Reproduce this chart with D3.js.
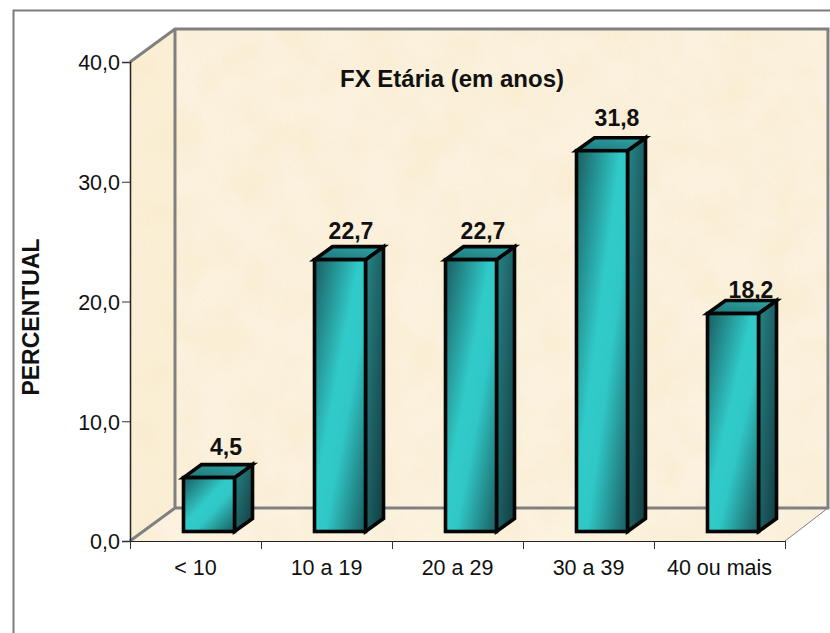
<!DOCTYPE html>
<html>
<head>
<meta charset="utf-8">
<script src="https://cdn.jsdelivr.net/npm/d3@7"></script>
<style>
   html, body { margin:0; padding:0; background:#fff; }
   text { font-family:"Liberation Sans",Arial,sans-serif; fill:#111; }
</style>
</head>
<body>
<div id="chart"></div>
<script>
// chart values
var categories = ["< 10","10 a 19","20 a 29","30 a 39","40 ou mais"];
var percents = [4.5,22.7,22.7,31.8,18.2];
var valueLabels = ["4,5","22,7","22,7","31,8","18,2"];
var yTicks = [0,10,20,30,40];

var chartTitle = "FX Etária (em anos)";
var yTitle = "PERCENTUAL";

// layout
var width = 830, height = 633;
var plot = {left:130, right:785, top:62, bottom:541};
var depth = {x:45, y:33};
var barDepth = {x:18, y:13};
var barInset = {x:53.5, y:9.5, width:51};
// the value labels do not sit at a regular distance from their bars
var labelNudge = [[8,-10],[2,-8],[3,-8],[6,-12],[9,-3]];

var yScale = d3.scaleLinear().domain([0,40]).range([plot.bottom,plot.top]);
var xScale = d3.scaleBand().domain(categories).range([plot.left,plot.right]);

var svg = d3.select("#chart").append("svg")
   .attr("width",width)
   .attr("height",height)
   .style("display","block");

var defs = svg.append("defs");

// parchment texture
var paper = defs.append("filter").attr("id","paper")
   .attr("x",0).attr("y",0).attr("width",1).attr("height",1);
paper.append("feTurbulence").attr("type","fractalNoise").attr("baseFrequency",0.025)
   .attr("numOctaves",3).attr("seed",4).attr("result","clouds");
paper.append("feColorMatrix").attr("in","clouds").attr("type","matrix")
   .attr("values","0 0 0 0 0.95  0 0 0 0 0.83  0 0 0 0 0.60  1.2 0 0 0 -0.42")
   .attr("result","stain");
paper.append("feTurbulence").attr("type","fractalNoise").attr("baseFrequency",0.7)
   .attr("numOctaves",2).attr("seed",9).attr("result","fine");
paper.append("feColorMatrix").attr("in","fine").attr("type","matrix")
   .attr("values","0 0 0 0 0.88  0 0 0 0 0.76  0 0 0 0 0.55  0.6 0 0 0 -0.2")
   .attr("result","grain");
var paperMerge = paper.append("feMerge").attr("result","merged");
paperMerge.append("feMergeNode").attr("in","SourceGraphic");
paperMerge.append("feMergeNode").attr("in","stain");
paperMerge.append("feMergeNode").attr("in","grain");
paper.append("feComposite").attr("in","merged").attr("in2","SourceGraphic").attr("operator","in");

function gradient(id,x1,y1,x2,y2,stops) {
   var g = defs.append("linearGradient").attr("id",id)
      .attr("x1",x1).attr("y1",y1).attr("x2",x2).attr("y2",y2);
   stops.forEach(function(s){
      g.append("stop").attr("offset",s[0]).attr("stop-color",s[1]);
   });
}
gradient("barFront",0,0,1,1,[[0,"#1a5c60"],[0.44,"#30cbc9"],[0.6,"#30c8c7"],[1,"#1a5c60"]]);
gradient("barSide",0,0,1,1,[[0,"#278488"],[1,"#123c40"]]);
gradient("barTop",0,1,1,0,[[0,"#1f7679"],[1,"#2fa5a6"]]);

// outer frame
svg.append("path")
   .attr("d","M13.5,"+height+"V10.5H"+width)
   .attr("fill","none")
   .attr("stroke","#7c7c7c")
   .attr("stroke-width",2);

// walls and floor
var wallRight = 828;
var backTop = plot.top-depth.y;
var backBottom = plot.bottom-depth.y;
var backLeft = plot.left+depth.x;

svg.append("rect")
   .attr("x",backLeft).attr("y",backTop)
   .attr("width",wallRight-backLeft).attr("height",backBottom-backTop)
   .attr("fill","#fcf3e0")
   .attr("filter","url(#paper)");
svg.append("polygon")
   .attr("points",[[plot.left,plot.top],[backLeft,backTop],[backLeft,backBottom],[plot.left,plot.bottom]].join(" "))
   .attr("fill","#fbf0d8")
   .attr("filter","url(#paper)");
svg.append("polygon")
   .attr("points",[[plot.left,plot.bottom],[backLeft,backBottom],[wallRight,backBottom],[plot.right,plot.bottom]].join(" "))
   .attr("fill","#fdf4e2")
   .attr("filter","url(#paper)");

// wall edges
svg.append("path")
   .attr("d","M"+plot.left+","+plot.top+"L"+backLeft+","+backTop+"H"+wallRight+"V"+backBottom+"H"+backLeft+"V"+backTop
      +"M"+plot.left+","+plot.bottom+"L"+backLeft+","+backBottom)
   .attr("fill","none")
   .attr("stroke","#808080")
   .attr("stroke-width",3);
svg.append("line")
   .attr("x1",plot.right).attr("y1",plot.bottom)
   .attr("x2",wallRight).attr("y2",backBottom)
   .attr("stroke","#808080")
   .attr("stroke-width",1);

// y axis
var yAxis = d3.axisLeft(yScale)
   .tickValues(yTicks)
   .tickSize(8)
   .tickPadding(2)
   .tickFormat(function(d){ return d3.format(".1f")(d).replace(".",","); });
var gY = svg.append("g").attr("class","y-axis")
   .attr("transform","translate("+plot.left+",0)")
   .call(yAxis);
gY.select(".domain").attr("stroke","#222").attr("stroke-width",1.5);
gY.selectAll("line").attr("stroke","#333");
gY.selectAll("text").attr("y",1).style("font-size","21.5px").style("font-family",null);

// x axis, the tick marks fall on the band edges
var xAxis = d3.axisBottom(xScale).tickSize(0).tickPadding(19);
var gX = svg.append("g").attr("class","x-axis")
   .attr("transform","translate(0,"+plot.bottom+")")
   .call(xAxis);
gX.select(".domain").attr("stroke","#222");
gX.selectAll("text").style("font-size","21.5px").style("font-family",null);
gX.selectAll(".band-edge")
   .data(categories.map(function(c){ return xScale(c); }).concat(plot.right))
   .enter().append("line").attr("class","band-edge")
   .attr("x1",function(d){ return d+0.5; })
   .attr("x2",function(d){ return d+0.5; })
   .attr("y1",0).attr("y2",8)
   .attr("stroke","#333");

// bars
var bars = svg.selectAll(".bar")
   .data(percents)
   .enter().append("g").attr("class","bar")
   .attr("transform",function(d,i){
      return "translate("+(xScale(categories[i])+barInset.x)+","+(plot.bottom-barInset.y)+")";
   });

function barHeight(d) { return yScale(0)-yScale(d); }

bars.append("path")
   .attr("d",function(d){
      var h = barHeight(d), w = barInset.width;
      return "M"+w+",0V"+(-h)+"L"+(w+barDepth.x)+","+(-h-barDepth.y)+"V"+(-barDepth.y)+"Z";
   })
   .attr("fill","url(#barSide)");
bars.append("path")
   .attr("d",function(d){
      var h = barHeight(d), w = barInset.width;
      return "M0,"+(-h)+"L"+barDepth.x+","+(-h-barDepth.y)+"H"+(w+barDepth.x)+"L"+w+","+(-h)+"Z";
   })
   .attr("fill","url(#barTop)");
bars.append("rect")
   .attr("x",0)
   .attr("y",function(d){ return -barHeight(d); })
   .attr("width",barInset.width)
   .attr("height",barHeight)
   .attr("fill","url(#barFront)");
bars.selectAll("path,rect")
   .attr("stroke","#050505")
   .attr("stroke-width",3.6)
   .attr("stroke-linejoin","miter");

// value labels
svg.selectAll(".value-label")
   .data(percents)
   .enter().append("text").attr("class","value-label")
   .attr("x",function(d,i){
      return xScale(categories[i])+barInset.x+(barInset.width+barDepth.x)/2+labelNudge[i][0];
   })
   .attr("y",function(d,i){
      return plot.bottom-barInset.y-barHeight(d)-barDepth.y+labelNudge[i][1];
   })
   .attr("text-anchor","middle")
   .style("font-size","23px")
   .style("font-weight","bold")
   .text(function(d,i){ return valueLabels[i]; });

// titles
svg.append("text")
   .attr("x",452).attr("y",87)
   .attr("text-anchor","middle")
   .style("font-size","24px")
   .style("font-weight","bold")
   .text(chartTitle);
svg.append("text")
   .attr("transform","translate(39,317) rotate(-90)")
   .attr("text-anchor","middle")
   .style("font-size","23px")
   .style("font-weight","bold")
   .text(yTitle);
</script>
</body>
</html>
